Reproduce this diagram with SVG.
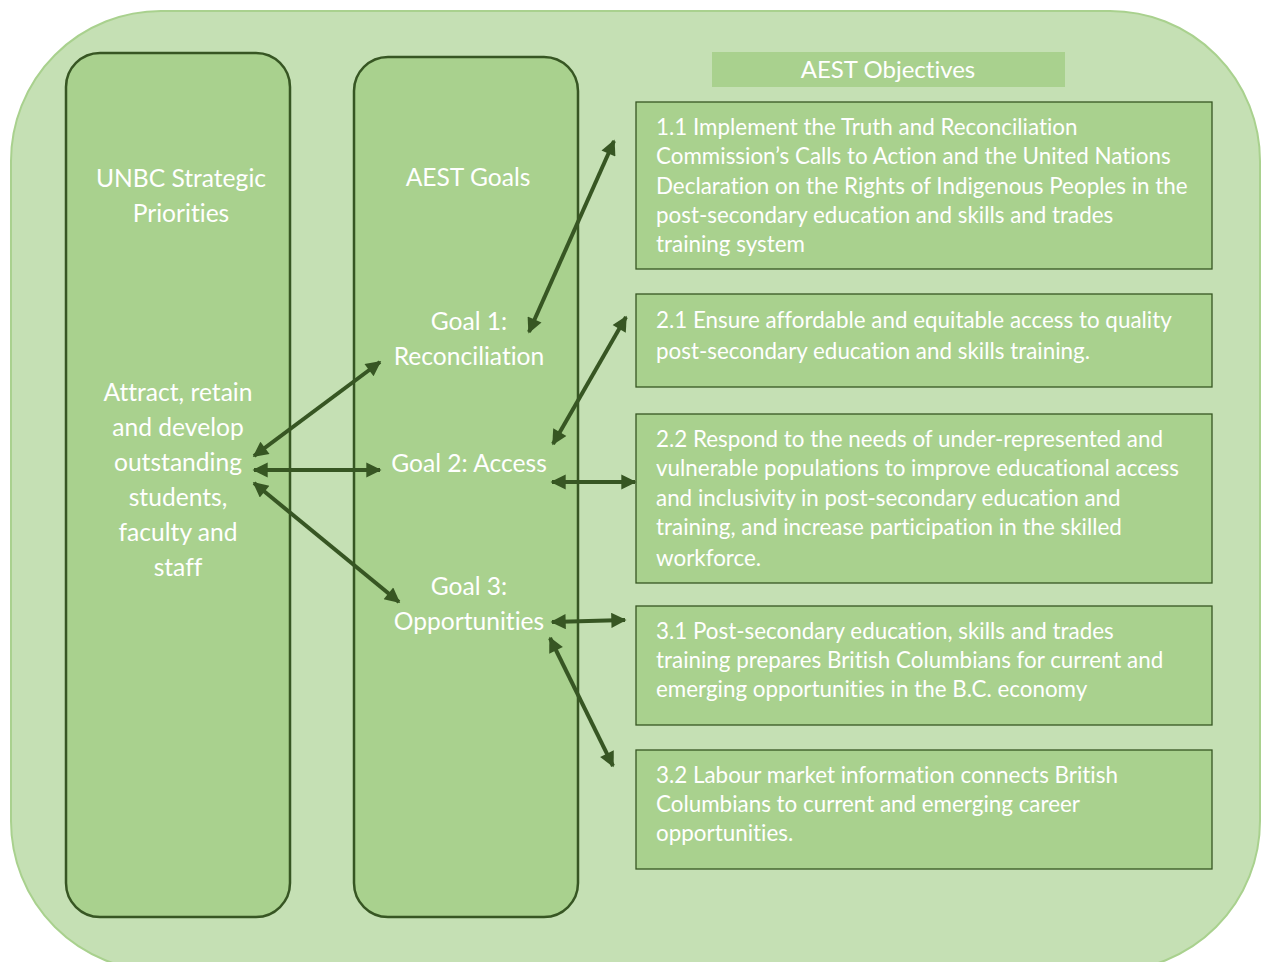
<svg xmlns="http://www.w3.org/2000/svg" width="1262" height="962" viewBox="0 0 1262 962">
<defs>
<style>
.bg{fill:#c5e0b4;stroke:#a9d18e;stroke-width:2}
.col{fill:#a9d18e;stroke:#375623;stroke-width:2.5}
.obj{fill:#a9d18e;stroke:#375623;stroke-width:1.3}
.hdr{fill:#a9d18e}
text{font-family:Lato,"Open Sans","Liberation Sans",sans-serif;fill:#ffffff;font-variant-ligatures:none;font-feature-settings:"liga" 0,"clig" 0,"dlig" 0}
.big{font-size:24.6px;text-anchor:middle}
.sm{font-size:22.4px}
.conn line{stroke:#375623;stroke-width:4;marker-start:url(#ah);marker-end:url(#ah)}
</style>
<marker id="ah" viewBox="0 0 10 10" refX="9" refY="5" markerWidth="4.2" markerHeight="3.8" orient="auto-start-reverse" markerUnits="strokeWidth">
<path d="M0,0 L10,5 L0,10 z" fill="#375623"/>
</marker>
</defs>
<rect class="bg" x="11" y="11" width="1249" height="960" rx="150" ry="150"/>

<g id="unbc">
<rect class="col" x="66" y="53" width="224" height="864" rx="34" ry="34"/>
<text class="big" x="181" y="187">UNBC Strategic</text>
<text class="big" x="181" y="222">Priorities</text>
<text class="big" x="178" y="401">Attract, retain</text>
<text class="big" x="178" y="436">and develop</text>
<text class="big" x="178" y="471">outstanding</text>
<text class="big" x="178" y="506">students,</text>
<text class="big" x="178" y="541">faculty and</text>
<text class="big" x="178" y="576">staff</text>
</g>

<g id="aest-goals">
<rect class="col" x="354" y="57" width="224" height="860" rx="34" ry="34"/>
<text class="big" x="468" y="186">AEST Goals</text>
</g>
<g id="goal1">
<text class="big" x="469" y="330">Goal 1:</text>
<text class="big" x="469" y="365">Reconciliation</text>
</g>
<g id="goal2">
<text class="big" x="469" y="472">Goal 2: Access</text>
</g>
<g id="goal3">
<text class="big" x="469" y="595">Goal 3:</text>
<text class="big" x="469" y="630">Opportunities</text>
</g>

<g id="objectives-header">
<rect class="hdr" x="712" y="52" width="353" height="35"/>
<text class="big" x="888" y="78" style="font-size:24px">AEST Objectives</text>
</g>

<g id="obj11">
<rect class="obj" x="636" y="102" width="576" height="167"/>
<text class="sm" x="656" y="135">1.1 Implement the Truth and Reconciliation</text>
<text class="sm" x="656" y="164">Commission’s Calls to Action and the United Nations</text>
<text class="sm" x="656" y="194">Declaration on the Rights of Indigenous Peoples in the</text>
<text class="sm" x="656" y="223">post-secondary education and skills and trades</text>
<text class="sm" x="656" y="252">training system</text>
</g>
<g id="obj21">
<rect class="obj" x="636" y="294" width="576" height="93"/>
<text class="sm" x="656" y="328">2.1 Ensure affordable and equitable access to quality</text>
<text class="sm" x="656" y="359">post-secondary education and skills training.</text>
</g>
<g id="obj22">
<rect class="obj" x="636" y="414" width="576" height="169"/>
<text class="sm" x="656" y="447">2.2 Respond to the needs of under-represented and</text>
<text class="sm" x="656" y="476">vulnerable populations to improve educational access</text>
<text class="sm" x="656" y="506">and inclusivity in post-secondary education and</text>
<text class="sm" x="656" y="535">training, and increase participation in the skilled</text>
<text class="sm" x="656" y="566">workforce.</text>
</g>
<g id="obj31">
<rect class="obj" x="636" y="606" width="576" height="119"/>
<text class="sm" x="656" y="639">3.1 Post-secondary education, skills and trades</text>
<text class="sm" x="656" y="668">training prepares British Columbians for current and</text>
<text class="sm" x="656" y="697">emerging opportunities in the B.C. economy</text>
</g>
<g id="obj32">
<rect class="obj" x="636" y="750" width="576" height="119"/>
<text class="sm" x="656" y="783">3.2 Labour market information connects British</text>
<text class="sm" x="656" y="812">Columbians to current and emerging career</text>
<text class="sm" x="656" y="841">opportunities.</text>
</g>

<g id="connectors" class="conn">
<line x1="614" y1="141" x2="529" y2="332"/>
<line x1="626" y1="317" x2="553" y2="444"/>
<line x1="254" y1="456" x2="380" y2="362"/>
<line x1="254" y1="470" x2="380" y2="470"/>
<line x1="254" y1="483" x2="399" y2="602"/>
<line x1="552" y1="482" x2="635" y2="482"/>
<line x1="552" y1="622" x2="625" y2="620"/>
<line x1="550" y1="638" x2="613" y2="766"/>
</g>
</svg>
